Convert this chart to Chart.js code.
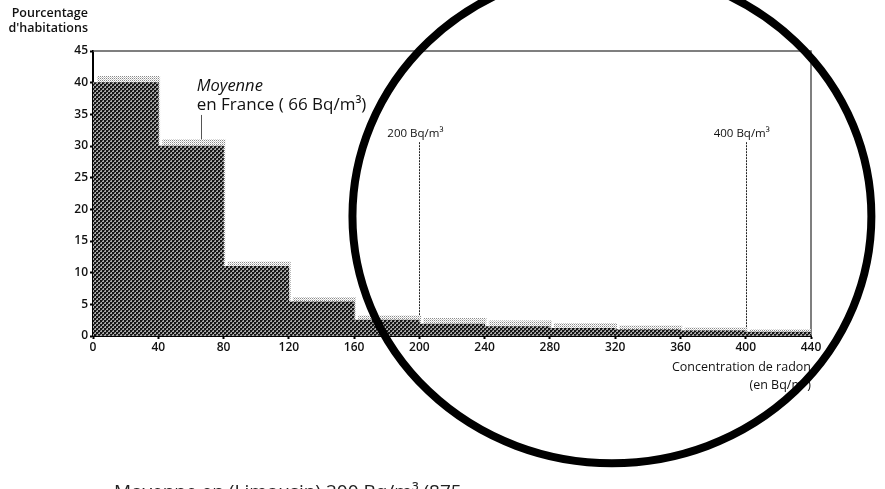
<!DOCTYPE html>
<html>
<head>
<meta charset="utf-8">
<script src="https://cdn.jsdelivr.net/npm/chart.js@4.4.1/dist/chart.umd.min.js"></script>
<style>
html,body{margin:0;padding:0;background:#fff;overflow:hidden;}
#wrap{width:885px;height:489px;position:relative;}
canvas{display:block;}
</style>
</head>
<body>
<div id="wrap"><canvas id="c" width="885" height="489" style="width:885px;height:489px;"></canvas></div>
<script>
// ---- data ----
const binStarts = [0, 40, 80, 120, 160, 200, 240, 280, 320, 360, 400];
const binWidth = 40;
const darkValues = [40, 30, 11, 5.4, 2.5, 1.9, 1.5, 1.2, 1.0, 0.8, 0.6];
const shadowValues = [41, 31, 11.7, 6.1, 3.2, 2.8, 2.4, 2.0, 1.6, 1.3, 1.0];
const yTitle = ["Pourcentage", "d'habitations"];
const xTitle = ["Concentration de radon", "(en Bq/m³)"];
const refLines = [
  { x: 200, top: 30.6, label: "200 Bq/m³" },
  { x: 400, top: 30.6, label: "400 Bq/m³" }
];
const meanValue = 66;
const meanLabel = ["Moyenne", "en France ( 66 Bq/m³)"];
const footerText = "Moyenne en (Limousin) 200 Bq/m³ (875";
const circle = { x: 318, y: 18.9, rx: 159, ry: 39 };

// ---- patterns ----
function makePattern(size, draw) {
  const c = document.createElement('canvas');
  c.width = size; c.height = size;
  const g = c.getContext('2d');
  draw(g);
  return g.createPattern(c, 'repeat');
}
const ctxMain = document.getElementById('c').getContext('2d');
const darkPattern = makePattern(4, g => {
  g.fillStyle = '#a8a8a8'; g.fillRect(0, 0, 4, 4);
  g.fillStyle = '#151515'; g.fillRect(0, 0, 2, 2); g.fillRect(2, 2, 2, 2);
  g.fillStyle = '#444'; g.fillRect(2, 0, 1, 1); g.fillRect(0, 2, 1, 1);
});
const lightPattern = makePattern(2, g => {
  g.fillStyle = '#ffffff'; g.fillRect(0, 0, 2, 2);
  g.fillStyle = '#8a8a8a'; g.fillRect(0, 0, 1, 1);
  g.fillStyle = '#c8c8c8'; g.fillRect(1, 1, 1, 1);
});

const FONT = "'Open Sans', 'DejaVu Sans', sans-serif";

const decorations = {
  id: 'decorations',
  beforeDatasetsDraw(chart) {
    const { ctx, chartArea: a, scales: { x, y } } = chart;
    ctx.save();
    ctx.strokeStyle = '#555';
    ctx.lineWidth = 1.5;
    ctx.beginPath();
    ctx.moveTo(a.left, a.top);
    ctx.lineTo(a.right, a.top);
    ctx.lineTo(a.right, a.bottom);
    ctx.stroke();
    ctx.lineWidth = 1;
    ctx.strokeStyle = '#222';
    ctx.setLineDash([2, 1]);
    refLines.forEach(r => {
      const px = Math.round(x.getPixelForValue(r.x)) + 0.5;
      ctx.beginPath();
      ctx.moveTo(px, y.getPixelForValue(r.top));
      ctx.lineTo(px, y.getPixelForValue(0));
      ctx.stroke();
    });
    ctx.setLineDash([]);
    const mx = Math.round(x.getPixelForValue(meanValue)) + 0.5;
    ctx.strokeStyle = '#555';
    ctx.beginPath();
    ctx.moveTo(mx, y.getPixelForValue(34.9));
    ctx.lineTo(mx, y.getPixelForValue(28));
    ctx.stroke();
    ctx.restore();
  },
  afterDraw(chart) {
    const { ctx, chartArea: a, scales: { x, y } } = chart;
    ctx.save();
    ctx.fillStyle = '#111';
    ctx.font = `600 12.5px ${FONT}`;
    ctx.textAlign = 'right';
    ctx.textBaseline = 'alphabetic';
    ctx.fillText(yTitle[0], a.left - 5, 17);
    ctx.fillText(yTitle[1], a.left - 5, 32);
    ctx.font = `500 12.5px ${FONT}`;
    ctx.fillText(xTitle[0], a.right, a.bottom + 35);
    ctx.fillText(xTitle[1], a.right, a.bottom + 53);
    ctx.font = `11.5px ${FONT}`;
    ctx.textAlign = 'center';
    refLines.forEach(r => {
      ctx.fillText(r.label, x.getPixelForValue(r.x) - 4, y.getPixelForValue(r.top) - 5);
    });
    const mx = x.getPixelForValue(meanValue);
    ctx.textAlign = 'left';
    ctx.font = `italic 16.5px ${FONT}`;
    ctx.fillText(meanLabel[0], mx - 4, y.getPixelForValue(38.7));
    ctx.font = `17px ${FONT}`;
    ctx.fillText(meanLabel[1], mx - 4, y.getPixelForValue(35.7));
    ctx.fillStyle = '#222';
    ctx.font = `19px ${FONT}`;
    ctx.fillText(footerText, 114, 498);
    ctx.strokeStyle = '#000';
    ctx.lineWidth = 8;
    const cx = x.getPixelForValue(circle.x);
    const cy = y.getPixelForValue(circle.y);
    const rx = x.getPixelForValue(circle.x + circle.rx) - cx;
    const ry = y.getPixelForValue(0) - y.getPixelForValue(circle.ry);
    ctx.beginPath();
    ctx.ellipse(cx, cy, rx, ry, 0, 0, Math.PI * 2);
    ctx.stroke();
    ctx.restore();
  }
};

new Chart(ctxMain, {
  type: 'bar',
  data: {
    datasets: [
      {
        label: 'dark',
        data: binStarts.map((b, i) => ({ x: b + binWidth / 2, y: darkValues[i] })),
        backgroundColor: darkPattern,
        borderWidth: 0,
        xAxisID: 'x',
        order: 1
      },
      {
        label: 'shadow',
        data: binStarts.map((b, i) => ({ x: b + binWidth / 2, y: shadowValues[i] })),
        backgroundColor: lightPattern,
        borderWidth: 0,
        xAxisID: 'xs',
        order: 2
      }
    ]
  },
  options: {
    responsive: false,
    animation: false,
    devicePixelRatio: 1,
    grouped: false,
    barPercentage: 1,
    categoryPercentage: 1,
    layout: { padding: { left: 0, right: 74, top: 51, bottom: 0 } },
    plugins: { legend: { display: false }, tooltip: { enabled: false } },
    scales: {
      x: {
        type: 'linear', min: 0, max: 440, offset: false,
        ticks: { stepSize: 40, color: '#111', font: { family: FONT, size: 12, weight: '600' }, padding: 1, maxRotation: 0 },
        grid: { drawOnChartArea: false, offset: false, tickLength: 3, color: '#000', tickWidth: 2 },
        border: { color: '#000', width: 2 },
        afterFit: s => { s.height = 153; }
      },
      xs: {
        type: 'linear', min: -1.8, max: 438.2, offset: false, display: false
      },
      y: {
        min: 0, max: 45,
        ticks: { stepSize: 5, color: '#111', font: { family: FONT, size: 12, weight: '600' }, padding: 2 },
        grid: { drawOnChartArea: false, tickLength: 3, color: '#000', tickWidth: 2 },
        border: { color: '#000', width: 2 },
        afterFit: s => { s.width = 93; }
      }
    }
  },
  plugins: [decorations]
});
</script>
</body>
</html>
